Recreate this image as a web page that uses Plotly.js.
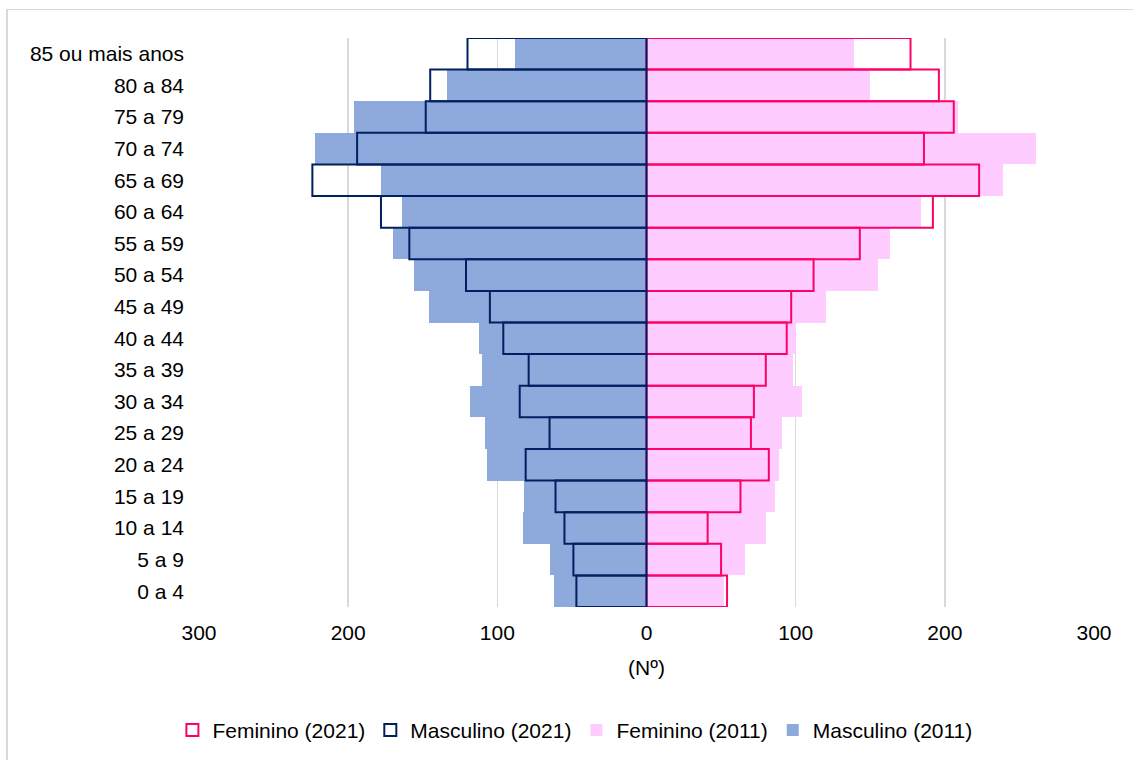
<!DOCTYPE html>
<html>
<head>
<meta charset="utf-8">
<script src="https://cdn.plot.ly/plotly-3.0.1.min.js"></script>
<style>
html,body{margin:0;padding:0;background:#fff;overflow:hidden;}
#frame{position:absolute;left:6px;top:9px;width:1200px;height:800px;border:1px solid #d9d9d9;border-left-width:2px;box-sizing:border-box;}
#chart{position:absolute;left:0;top:0;width:1133px;height:760px;}
</style>
</head>
<body>
<div id="frame"></div>
<div id="chart"></div>
<script>
const ageGroups = ["0 a 4","5 a 9","10 a 14","15 a 19","20 a 24","25 a 29","30 a 34","35 a 39","40 a 44","45 a 49","50 a 54","55 a 59","60 a 64","65 a 69","70 a 74","75 a 79","80 a 84","85 ou mais anos"];
const fem2021 = [54,50,41,63,82,70,72,80,94,97,112,143,192,223,186,206,196,177];
const masc2021 = [47,49,55,61,81,65,85,79,96,105,121,159,178,224,194,148,145,120];
const fem2011 = [52,66,80,86,89,91,104,98,100,120,155,163,184,239,261,209,150,139];
const masc2011 = [62,65,83,82,107,108,118,110,112,146,156,170,164,178,222,196,134,88];
const tickVals = [-300,-200,-100,0,100,200,300];
const tickText = ["300","200","100","0","100","200","300"];

const neg = a => a.map(v => -v);
const font = {family:"Liberation Sans, Arial, sans-serif", size:21, color:"#000"};

const traces = [
  {type:"bar", orientation:"h", name:"Feminino (2011)", y:ageGroups, x:fem2011,
   marker:{color:"#FFCCFF", line:{width:0}}, width:1, legendrank:3},
  {type:"bar", orientation:"h", name:"Masculino (2011)", y:ageGroups, x:neg(masc2011),
   marker:{color:"#8EA9DB", line:{width:0}}, width:1, legendrank:4},
  {type:"bar", orientation:"h", name:"Feminino (2021)", y:ageGroups, x:fem2021,
   marker:{color:"rgba(0,0,0,0)", line:{color:"#FF0066", width:2}}, width:1, legendrank:1},
  {type:"bar", orientation:"h", name:"Masculino (2021)", y:ageGroups, x:neg(masc2021),
   marker:{color:"rgba(0,0,0,0)", line:{color:"#002060", width:2}}, width:1, legendrank:2}
];

const layout = {
  width:1133, height:760,
  paper_bgcolor:"rgba(0,0,0,0)", plot_bgcolor:"rgba(0,0,0,0)",
  margin:{l:199, r:39, t:38, b:153, autoexpand:false},
  barmode:"overlay", bargap:0,
  font:font,
  showlegend:true,
  legend:{orientation:"h", x:0.42, xanchor:"center", xref:"paper",
          y:0.039, yanchor:"middle", yref:"container",
          font:font, traceorder:"normal", itemwidth:30},
  xaxis:{range:[-300,300], tickvals:tickVals, ticktext:tickText,
         showgrid:true, gridcolor:"#d9d9d9", gridwidth:1.5,
         zeroline:true, zerolinecolor:"#bfbfbf", zerolinewidth:1.5,
         showline:false, ticks:"", ticklabelstandoff:11, tickfont:font, fixedrange:true,
         title:{text:"(Nº)", font:font, standoff:17}},
  yaxis:{type:"category", categoryorder:"array", categoryarray:ageGroups,
         showgrid:false, zeroline:false, showline:false, ticks:"",
         ticklabelstandoff:14, tickfont:font, fixedrange:true}
};

Plotly.newPlot("chart", traces, layout, {displayModeBar:false, staticPlot:true});
</script>
</body>
</html>
